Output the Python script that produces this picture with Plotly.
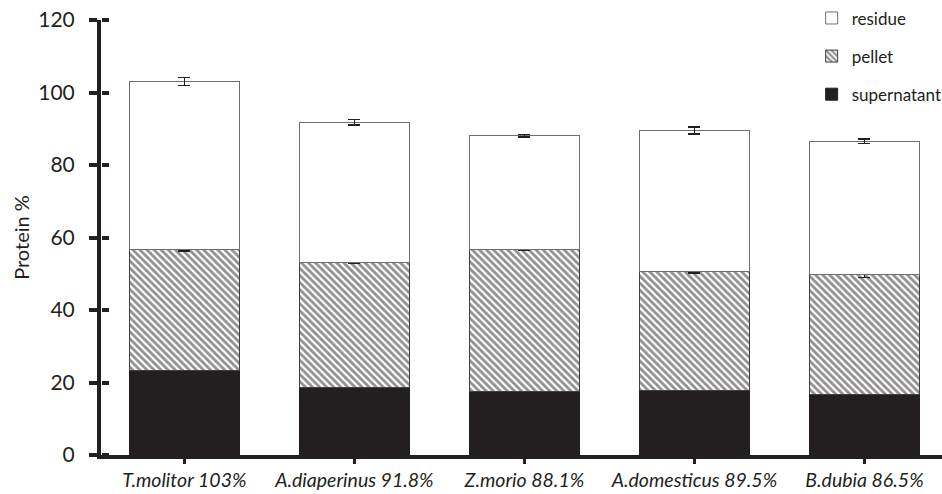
import plotly.graph_objects as go

# Protein fractionation per insect species (cumulative stacks)
species = ["T.molitor 103%", "A.diaperinus 91.8%", "Z.morio 88.1%",
           "A.domesticus 89.5%", "B.dubia 86.5%"]
supernatant = [23.3, 18.7, 17.4, 17.9, 16.8]
pellet_top = [56.7, 53.0, 56.8, 50.5, 49.7]
total = [103.0, 91.8, 88.1, 89.5, 86.5]

supernatant_err = [0.3, 0.2, 0.2, 0.2, 0.3]
pellet_err = [0.4, 0.2, 0.2, 0.3, 0.7]
total_err = [1.1, 0.8, 0.3, 1.0, 0.6]

pellet = [p - s for p, s in zip(pellet_top, supernatant)]
residue = [t - p for t, p in zip(total, pellet_top)]

y_ticks = [0, 20, 40, 60, 80, 100, 120]

INK = "#231f20"
FONT = "Lato"


def err(values):
    return dict(type="data", array=values, visible=True, color=INK,
                thickness=1.6, width=6)


fig = go.Figure()
fig.add_trace(go.Bar(
    x=species, y=supernatant, name="supernatant", legendgroup="s",
    legendrank=3,
    marker=dict(color=INK, line=dict(color=INK, width=1)),
    error_y=err(supernatant_err)))
fig.add_trace(go.Bar(
    x=species, y=pellet, name="pellet", legendgroup="p", legendrank=2,
    marker=dict(color="white", line=dict(color="#404040", width=1),
                pattern=dict(shape="\\", fgcolor=INK, bgcolor="white",
                             size=5, solidity=0.55)),
    error_y=err(pellet_err)))
fig.add_trace(go.Bar(
    x=species, y=residue, name="residue", legendgroup="r", legendrank=1,
    marker=dict(color="white", line=dict(color="#6f6f6f", width=1)),
    error_y=err(total_err)))

# invisible trace carrying the inner half of the crossing y ticks
fig.add_trace(go.Scatter(x=[species[0]], y=[0], yaxis="y2", mode="markers",
                         marker=dict(opacity=0), showlegend=False,
                         hoverinfo="skip"))

fig.update_layout(
    width=942, height=494,
    margin=dict(l=101, r=0, t=20, b=39, autoexpand=False),
    paper_bgcolor="white", plot_bgcolor="white",
    barmode="stack", bargap=0.353,
    font=dict(family=FONT, color=INK),
    showlegend=True,
    legend=dict(x=0.845, y=1.045, xanchor="left", yanchor="top",
                traceorder="grouped", tracegroupgap=13,
                font=dict(size=17, family=FONT, color=INK),
                bgcolor="rgba(0,0,0,0)", itemwidth=30),
    xaxis=dict(type="category", range=[-0.49, 4.456],
               showline=True, linecolor=INK, linewidth=4,
               ticks="outside", ticklen=5, tickwidth=3, tickcolor=INK,
               ticklabelstandoff=0,
               tickfont=dict(size=19.5, family=FONT + ", sans-serif",
                             style="italic", color=INK),
               showgrid=False, zeroline=False),
    yaxis=dict(range=[0, 120], tickvals=y_ticks,
               showline=True, linecolor=INK, linewidth=4,
               ticks="outside", ticklen=8, tickwidth=4, tickcolor=INK,
               ticklabelstandoff=10,
               tickfont=dict(size=21, family=FONT, color=INK),
               title=dict(text="Protein %", standoff=4,
                          font=dict(size=20, family=FONT, color=INK)),
               showgrid=False, zeroline=False),
    yaxis2=dict(range=[0, 120], tickvals=y_ticks, overlaying="y",
                anchor="free", position=0, side="right",
                ticks="outside", ticklen=7, tickwidth=4, tickcolor=INK,
                showticklabels=False, showline=False,
                showgrid=False, zeroline=False),
)

fig.write_html("out.html")
